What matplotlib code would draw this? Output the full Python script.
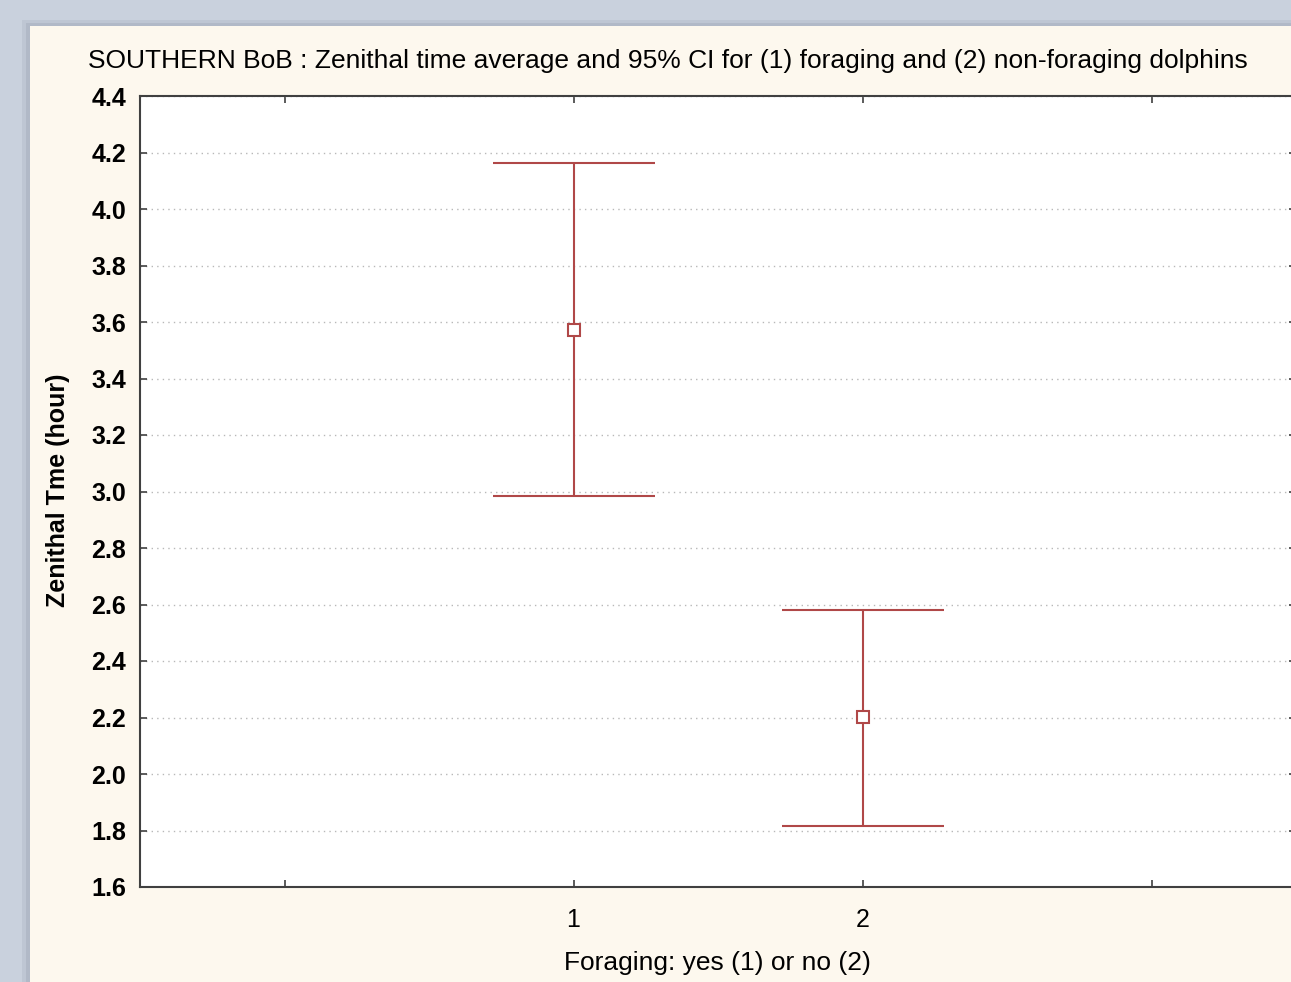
import matplotlib.pyplot as plt
from matplotlib.patches import Rectangle

# Group means and 95% CI bounds
groups = [1, 2]
means = [3.572, 2.202]
ci_upper = [4.163, 2.581]
ci_lower = [2.984, 1.816]
y_ticks = [1.6, 1.8, 2.0, 2.2, 2.4, 2.6, 2.8, 3.0, 3.2, 3.4, 3.6, 3.8, 4.0, 4.2, 4.4]

W, H = 1291, 982
plt.rcParams['font.family'] = ['Liberation Sans', 'DejaVu Sans']
fig = plt.figure(figsize=(W / 100, H / 100), dpi=100)
fig.patch.set_facecolor('#c9d1dd')

# cream panel with a soft shadow
fig.patches.append(Rectangle((22 / W, 0), 1, 1 - 20 / H, transform=fig.transFigure,
                             facecolor='#aab3c2', edgecolor='none', alpha=0.35, zorder=-3))
fig.patches.append(Rectangle((26 / W, 0), 1, 1 - 23 / H, transform=fig.transFigure,
                             facecolor='#9aa3b2', edgecolor='none', alpha=0.35, zorder=-2))
fig.patches.append(Rectangle((30 / W, 0), 1, 1 - 26 / H, transform=fig.transFigure,
                             facecolor='#fdf8ee', edgecolor='none', zorder=-1))

ax = fig.add_axes([140 / W, 1 - 887 / H, 1156 / W, (887 - 96) / H])
ax.set_facecolor('white')

err_lo = [m - l for m, l in zip(means, ci_lower)]
err_hi = [u - m for m, u in zip(means, ci_upper)]
ax.errorbar(groups, means, yerr=[err_lo, err_hi], fmt='s', color='#b04848',
            ecolor='#b04848', elinewidth=1.5, capsize=58, capthick=1.5,
            markersize=9, markerfacecolor='white', markeredgecolor='#b04848',
            markeredgewidth=1.5, zorder=3)

ax.set_xlim(-0.5, 3.5)
ax.set_ylim(1.6, 4.4)
ax.set_yticks(y_ticks)
ax.set_yticklabels([f'{t:.1f}' for t in y_ticks], fontsize=18, fontweight='bold')
ax.set_xticks([0, 1, 2, 3])
ax.set_xticklabels(['', '1', '2', ''], fontsize=18)
ax.tick_params(direction='in', length=5, width=1.2, color='#404040', pad=10,
               top=True, right=True)
ax.tick_params(axis='x', pad=15)
ax.yaxis.grid(True, linestyle=(0, (1, 3)), color='#b8b8b8', linewidth=1)
ax.set_axisbelow(True)
for s in ax.spines.values():
    s.set_color('#404040')
    s.set_linewidth(1.5)

fig.text(58 / W, 1 - 490 / H, 'Zenithal Tme (hour)', fontsize=18, fontweight='bold',
         rotation=90, ha='center', va='center')
fig.text(717 / W, 1 - 963 / H, 'Foraging: yes (1) or no (2)', fontsize=19,
         ha='center', va='center')
fig.text(88 / W, 1 - 61 / H,
         'SOUTHERN BoB : Zenithal time average and 95% CI for (1) foraging and (2) non-foraging dolphins',
         fontsize=19, ha='left', va='center')

fig.savefig('out.png', dpi=100, facecolor=fig.get_facecolor())
